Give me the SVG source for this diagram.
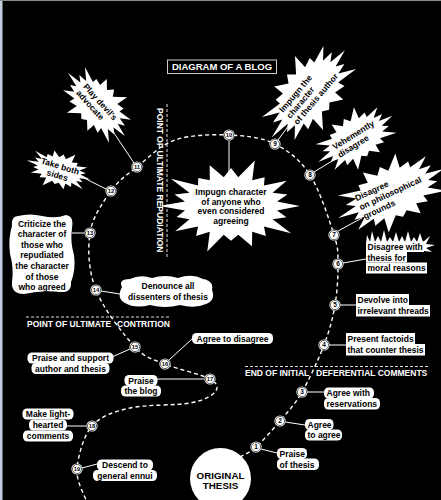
<svg xmlns="http://www.w3.org/2000/svg" xmlns:xlink="http://www.w3.org/1999/xlink" width="441" height="500" viewBox="0 0 441 500">
<style>
text { font-family: "Liberation Sans", Arial, Helvetica, sans-serif; font-weight: bold; }
.t { font-size: 8.5px; fill: #000; }
.c { text-anchor: middle; }
.w { font-size: 8.5px; fill: #fff; }
.n { font-size: 6.5px; fill: #000; text-anchor: middle; }
.n2 { font-size: 5.8px; }
.box { fill: #fff; }
.burst { fill: #fff; }
.conn line { stroke: #fff; stroke-width: 1; }
.route { fill: none; stroke: #fff; stroke-width: 1.4; stroke-dasharray: 4 3; }
.sep { stroke: #ddd; stroke-width: 1; stroke-dasharray: 3 2; }
</style>
<defs>
<polygon id="star" points="1.3,0 0.869,0.137 1.046,0.34 0.784,0.4 1.133,0.823 0.622,0.622 0.658,0.906 0.4,0.784 0.396,1.217 0.137,0.869 0,1.05 -0.137,0.869 -0.448,1.379 -0.4,0.784 -0.658,0.906 -0.622,0.622 -1.052,0.764 -0.784,0.4 -1.027,0.334 -0.869,0.137 -1.35,0 -0.869,-0.137 -1.065,-0.346 -0.784,-0.4 -1.133,-0.823 -0.622,-0.622 -0.617,-0.849 -0.4,-0.784 -0.402,-1.236 -0.137,-0.869 0,-1.15 0.137,-0.869 0.448,-1.379 0.4,-0.784 0.635,-0.874 0.622,-0.622 1.052,-0.764 0.784,-0.4 1.065,-0.346 0.869,-0.137"/>
<g id="dot"><circle r="5.6" fill="#fff"/><circle r="4.6" fill="none" stroke="#000" stroke-width="0.6"/></g>
</defs>
<rect x="0" y="0" width="441" height="500" fill="#000"/>
<rect x="0" y="0" width="2.5" height="500" fill="#c5cde0"/>
<rect x="0" y="0" width="441" height="1" fill="#888"/>

<g id="title">
<rect x="167.5" y="60" width="109" height="13.5" fill="none" stroke="#ccc" stroke-width="1"/>
<text class="w c" x="222" y="70.3" style="font-size:9.5px">DIAGRAM OF A BLOG</text>
</g>

<g id="separators">
<line class="sep" x1="167" y1="104" x2="167" y2="258"/>
<text class="w" transform="translate(156.5,108) rotate(90)">POINT OF ULTIMATE REPUDIATION</text>
<line class="sep" x1="26" y1="317" x2="170" y2="317"/>
<text class="w" x="27" y="326.5">POINT OF ULTIMATE</text>
<text class="w" x="117" y="326.5">CONTRITION</text>
<line class="sep" x1="245" y1="366.5" x2="428" y2="366.5"/>
<text class="w" x="245" y="376">END OF INITIAL</text>
<text class="w" x="316" y="376">DEFERENTIAL COMMENTS</text>
</g>

<g id="connectors" class="conn">
<path class="route" d="M240,457 C242.7,455.3 249.3,453 256,447 C262.7,441 272.3,430.2 280,421 C287.7,411.8 294.7,404.7 302,392 C309.3,379.3 318.5,359.5 324,345 C329.5,330.5 332.7,318.5 335,305 C337.3,291.5 338.2,275.7 338,264 C337.8,252.3 338.7,249.8 334,235 C329.3,220.2 319.8,190.2 310,175 C300.2,159.8 288.5,150.7 275,144 C261.5,137.3 245.7,135.7 229,135 C212.3,134.3 190.3,134.7 175,140 C159.7,145.3 147.7,158.5 137,167 C126.3,175.5 118.8,180 111,191 C103.2,202 92.5,216.5 90,233 C87.5,249.5 88.5,271 96,290 C103.5,309 123.5,334.7 135,347 C146.5,359.3 152.5,358.7 165,364 C177.5,369.3 201.7,374.3 210,379 C218.3,383.7 218.3,388 215,392 C211.7,396 204.2,400.3 190,403 C175.8,405.7 146.3,404.2 130,408 C113.7,411.8 100.8,415.8 92,426 C83.2,436.2 78,456.7 77,469 C76,481.3 84.5,494.8 86,500"/>
<line x1="261" y1="449" x2="277" y2="453"/>
<line x1="285" y1="422" x2="305" y2="425"/>
<line x1="307" y1="392" x2="324" y2="392"/>
<line x1="329" y1="345" x2="346" y2="345"/>
<line x1="340" y1="305" x2="356" y2="305"/>
<line x1="343" y1="263" x2="366" y2="259"/>
<line x1="338" y1="231" x2="362" y2="218"/>
<line x1="314" y1="172" x2="337" y2="158"/>
<line x1="278" y1="140" x2="292" y2="121"/>
<line x1="229" y1="141" x2="229" y2="174"/>
<line x1="134" y1="163" x2="110" y2="127"/>
<line x1="106" y1="189" x2="84" y2="178"/>
<line x1="84" y1="233" x2="72" y2="233"/>
<line x1="101" y1="291" x2="120" y2="294"/>
<line x1="130" y1="349" x2="112" y2="357"/>
<line x1="169" y1="360" x2="192" y2="339"/>
<line x1="204" y1="379" x2="157" y2="379"/>
<line x1="86" y1="426" x2="67" y2="426"/>
<line x1="82" y1="468" x2="97" y2="464"/>
</g>

<g id="thesis">
<circle cx="220.5" cy="478.5" r="30.5" fill="#fff"/>
<text class="t c" x="220.5" y="479" style="font-size:9.8px">ORIGINAL</text>
<text class="t c" x="220.5" y="488.8" style="font-size:9.8px">THESIS</text>
</g>

<g id="n1">
<rect class="box" x="277" y="448" width="30" height="11" rx="4.5"/>
<rect class="box" x="277" y="458.5" width="42" height="11.5" rx="4.5"/>
<text class="t" x="279.5" y="456.5">Praise</text>
<text class="t" x="279.5" y="467.5">of thesis</text>
<use xlink:href="#dot" x="256" y="447"/><text class="n" x="256" y="449.3">1</text>
</g>
<g id="n2">
<rect class="box" x="305" y="419" width="28.5" height="11" rx="4.5"/>
<rect class="box" x="305" y="429.5" width="37" height="11" rx="4.5"/>
<text class="t" x="307.5" y="427.5">Agree</text>
<text class="t" x="307.5" y="438">to agree</text>
<use xlink:href="#dot" x="280" y="421"/><text class="n" x="280" y="423.3">2</text>
</g>
<g id="n3">
<rect class="box" x="324" y="387.5" width="50" height="11" rx="4.5"/>
<rect class="box" x="324" y="398" width="56" height="11.5" rx="4.5"/>
<text class="t" x="326.5" y="396">Agree with</text>
<text class="t" x="326.5" y="407">reservations</text>
<use xlink:href="#dot" x="302" y="392"/><text class="n" x="302" y="394.3">3</text>
</g>
<g id="n4">
<rect class="box" x="346" y="333" width="69" height="11"/>
<rect class="box" x="346" y="344" width="79" height="11.5"/>
<text class="t" x="347.5" y="341.5">Present factoids</text>
<text class="t" x="347.5" y="352.5">that counter thesis</text>
<use xlink:href="#dot" x="324" y="345"/><text class="n" x="324" y="347.3">4</text>
</g>
<g id="n5">
<rect class="box" x="356" y="294" width="53" height="11"/>
<rect class="box" x="356" y="305" width="74" height="11.5"/>
<text class="t" x="357.5" y="302.5">Devolve into</text>
<text class="t" x="357.5" y="313.5">irrelevant threads</text>
<use xlink:href="#dot" x="335" y="305"/><text class="n" x="335" y="307.3">5</text>
</g>
<g id="n6">
<polygon class="box" points="366,244 367,235 370,242 372,231 375,242 378,236 381,242 384,230 387,242 390,237 393,242 396,232 399,242 402,236 405,242 408,231 411,242 414,237 417,242 420,233 423,242 430,236 426,244 435,245 426,248 432,252 424,251 366,251"/>
<rect class="box" x="366" y="241.5" width="58" height="10.5"/>
<rect class="box" x="366" y="252" width="41" height="10.5"/>
<rect class="box" x="366" y="262.5" width="61" height="11"/>
<text class="t" x="367.5" y="250">Disagree with</text>
<text class="t" x="367.5" y="260.5">thesis for</text>
<text class="t" x="367.5" y="271">moral reasons</text>
<use xlink:href="#dot" x="338" y="264"/><text class="n" x="338" y="266.3">6</text>
</g>
<g id="n7">
<g transform="translate(392,193) rotate(-25)">
<use class="burst" xlink:href="#star" transform="scale(44,25)"/>
<text class="t" x="-35.5" y="-7.5">Disagree</text>
<text class="t" x="-35.5" y="2.5">on philosophical</text>
<text class="t" x="-35.5" y="12.5">grounds</text>
</g>
<use xlink:href="#dot" x="334" y="235"/><text class="n" x="334" y="237.3">7</text>
</g>
<g id="n8">
<g transform="translate(356,138.5) rotate(-32)">
<use class="burst" xlink:href="#star" transform="scale(33,20)"/>
<text class="t" x="-24" y="-1.5">Vehemently</text>
<text class="t" x="-24" y="8">disagree</text>
</g>
<use xlink:href="#dot" x="310" y="175"/><text class="n" x="310" y="177.3">8</text>
</g>
<g id="n9">
<g transform="translate(309,93) rotate(-50)">
<use class="burst" xlink:href="#star" transform="scale(43,25)"/>
<text class="t" x="-32" y="-7">Impugn the</text>
<text class="t" x="-32" y="2.5">character</text>
<text class="t" x="-32" y="12">of thesis author</text>
</g>
<use xlink:href="#dot" x="275" y="144"/><text class="n" x="275" y="146.3">9</text>
</g>
<g id="n10">
<use class="burst" xlink:href="#star" transform="translate(231,206) scale(53,33)"/>
<text class="t c" x="231" y="195">Impugn character</text>
<text class="t c" x="231" y="204.5">of anyone who</text>
<text class="t c" x="231" y="214">even considered</text>
<text class="t c" x="231" y="223.5">agreeing</text>
<use xlink:href="#dot" x="229" y="135"/><text class="n n2" x="229" y="137.1">10</text>
</g>
<g id="n11">
<g transform="translate(97,105) rotate(48)">
<use class="burst" xlink:href="#star" transform="scale(32,20)"/>
<text class="t" x="-23" y="-1.5">Play devil's</text>
<text class="t" x="-23" y="8">advocate</text>
</g>
<use xlink:href="#dot" x="137" y="167"/><text class="n n2" x="137" y="169.1">11</text>
</g>
<g id="n12">
<g transform="translate(59,170) rotate(17)">
<use class="burst" xlink:href="#star" transform="scale(25,14)"/>
<text class="t c" x="0" y="-1">Take both</text>
<text class="t c" x="0" y="8.5">sides</text>
</g>
<use xlink:href="#dot" x="111" y="191"/><text class="n n2" x="111" y="193.1">12</text>
</g>
<g id="n13">
<path class="box" d="M18,216 Q30,213 42,216 Q56,219 66,215 Q74,216 72,228 Q70,242 74,255 Q76,270 71,282 Q72,293 60,292 Q42,290 24,294 Q11,294 12,282 Q14,268 10,254 Q8,238 12,226 Q11,216 18,216 Z"/>
<text class="t c" x="42" y="226.5">Criticize the</text>
<text class="t c" x="42" y="237.1">character of</text>
<text class="t c" x="42" y="247.7">those who</text>
<text class="t c" x="42" y="258.3">repudiated</text>
<text class="t c" x="42" y="268.9">the character</text>
<text class="t c" x="42" y="279.5">of those</text>
<text class="t c" x="42" y="290.1">who agreed</text>
<use xlink:href="#dot" x="90" y="233"/><text class="n n2" x="90" y="235.1">13</text>
</g>
<g id="n14">
<path class="box" d="M122,287 Q118,279 130,279 Q140,274 152,278 Q165,274 178,278 Q192,273 203,279 Q214,281 212,290 Q216,300 206,304 Q195,309 180,305 Q165,309 150,305 Q135,309 125,303 Q116,298 122,287 Z"/>
<text class="t c" x="168" y="289">Denounce all</text>
<text class="t c" x="168" y="300">dissenters of thesis</text>
<use xlink:href="#dot" x="96" y="290"/><text class="n n2" x="96" y="292.1">14</text>
</g>
<g id="n15">
<rect class="box" x="27.5" y="352.5" width="86" height="11" rx="4.5"/>
<rect class="box" x="31.5" y="363" width="78" height="11" rx="4.5"/>
<text class="t c" x="70.5" y="361">Praise and support</text>
<text class="t c" x="70.5" y="371.8">author and thesis</text>
<use xlink:href="#dot" x="135" y="347"/><text class="n n2" x="135" y="349.1">15</text>
</g>
<g id="n16">
<rect class="box" x="192" y="333" width="81" height="11" rx="4.5"/>
<text class="t c" x="232.5" y="341.5">Agree to disagree</text>
<use xlink:href="#dot" x="165" y="364"/><text class="n n2" x="165" y="366.1">16</text>
</g>
<g id="n17">
<rect class="box" x="124.5" y="375" width="33" height="11" rx="4.5"/>
<rect class="box" x="121" y="385.5" width="40" height="11" rx="4.5"/>
<text class="t c" x="141" y="383.5">Praise</text>
<text class="t c" x="141" y="394">the blog</text>
<use xlink:href="#dot" x="210" y="379"/><text class="n n2" x="210" y="381.1">17</text>
</g>
<g id="n18">
<rect class="box" x="22.5" y="408.5" width="51" height="11" rx="4.5"/>
<rect class="box" x="29" y="419.5" width="38" height="11" rx="4.5"/>
<rect class="box" x="23" y="430.5" width="50" height="11" rx="4.5"/>
<text class="t c" x="48" y="417">Make light-</text>
<text class="t c" x="48" y="428">hearted</text>
<text class="t c" x="48" y="439">comments</text>
<use xlink:href="#dot" x="92" y="426"/><text class="n n2" x="92" y="428.1">18</text>
</g>
<g id="n19">
<rect class="box" x="97" y="459.5" width="56" height="11" rx="4.5"/>
<rect class="box" x="93" y="470" width="64" height="11" rx="4.5"/>
<text class="t c" x="125" y="468">Descend to</text>
<text class="t c" x="125" y="478.5">general ennui</text>
<use xlink:href="#dot" x="77" y="469"/><text class="n n2" x="77" y="471.1">19</text>
</g>
</svg>
